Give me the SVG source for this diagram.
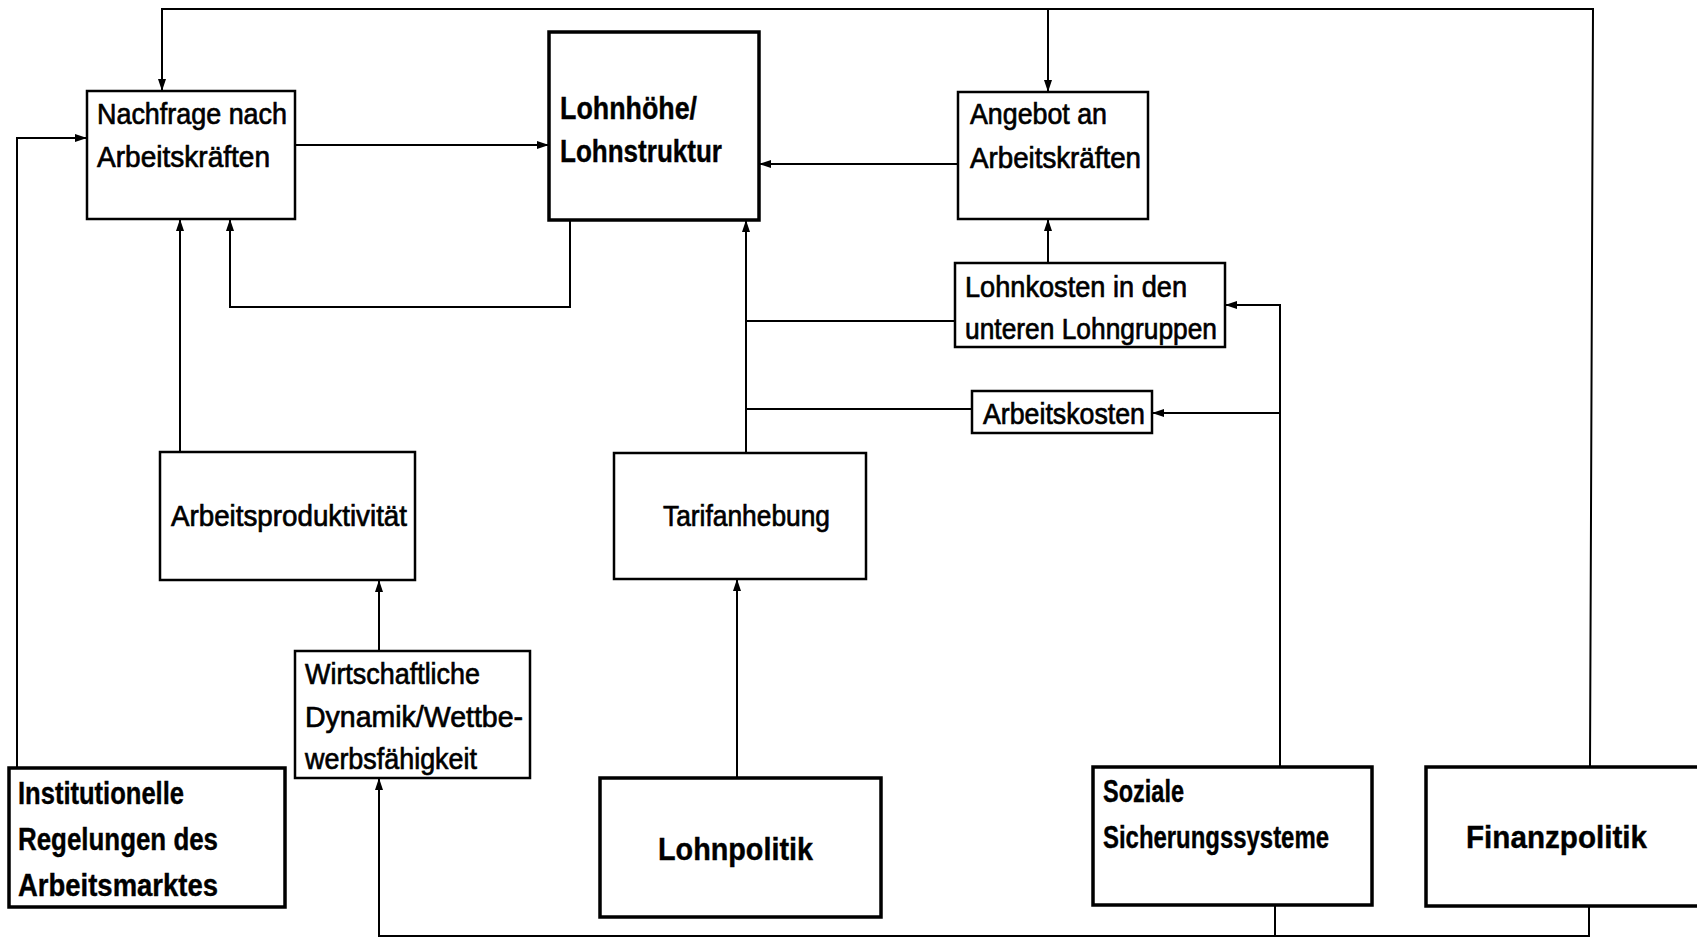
<svg xmlns="http://www.w3.org/2000/svg" width="1697" height="938" viewBox="0 0 1697 938">
<defs>
<marker id="ah" viewBox="0 0 12 8" refX="12" refY="4" markerWidth="12" markerHeight="8" orient="auto" markerUnits="userSpaceOnUse">
<path d="M0,0 L12,4 L0,8 z" fill="#000"/>
</marker>
<style>
.box{fill:#fff;stroke:#000;stroke-width:2.5}
.thick{fill:#fff;stroke:#000;stroke-width:3.5}
.t{font-family:"Liberation Sans",Arial,sans-serif;font-size:30px;fill:#000;stroke:#000;stroke-width:0.7}
.b{font-family:"Liberation Sans",Arial,sans-serif;font-size:31px;font-weight:bold;fill:#000;stroke:#000;stroke-width:0.4}
.c{fill:none;stroke:#000;stroke-width:2}
.ca{fill:none;stroke:#000;stroke-width:2;marker-end:url(#ah)}
</style>
</defs>
<rect width="1697" height="938" fill="#fff"/>
<g id="connectors">
<path class="ca" d="M1590,767 L1593,9 L162,9 L162,91"/>
<path class="ca" d="M1048,9 L1048,92"/>
<path class="ca" d="M1589,906 L1589,936 L379,936 L379,778"/>
<path class="c" d="M1275,906 L1275,936"/>
<path class="ca" d="M295,145 L549,145"/>
<path class="ca" d="M958,164 L759,164"/>
<path class="ca" d="M570,220 L570,307 L230,307 L230,219"/>
<path class="ca" d="M180,452 L180,219"/>
<path class="ca" d="M17,768 L17,138 L87,138"/>
<path class="ca" d="M1048,263 L1048,219"/>
<path class="c" d="M955,321 L746,321"/>
<path class="c" d="M972,409 L746,409"/>
<path class="ca" d="M746,453 L746,220"/>
<path class="ca" d="M1280,767 L1280,305 L1225,305"/>
<path class="ca" d="M1280,413 L1152,413"/>
<path class="ca" d="M379,651 L379,580"/>
<path class="ca" d="M737,778 L737,579"/>
</g>
<g id="nachfrage">
<rect class="box" x="87" y="91" width="208" height="128"/>
<text class="t" x="97" y="124" textLength="190" lengthAdjust="spacingAndGlyphs">Nachfrage nach</text>
<text class="t" x="97" y="167" textLength="173" lengthAdjust="spacingAndGlyphs">Arbeitskräften</text>
</g>
<g id="lohnhoehe">
<rect class="thick" x="549" y="32" width="210" height="188"/>
<text class="b" x="560" y="119" font-size="36" textLength="137" lengthAdjust="spacingAndGlyphs">Lohnhöhe/</text>
<text class="b" x="560" y="162" font-size="36" textLength="162" lengthAdjust="spacingAndGlyphs">Lohnstruktur</text>
</g>
<g id="angebot">
<rect class="box" x="958" y="92" width="190" height="127"/>
<text class="t" x="970" y="124" textLength="137" lengthAdjust="spacingAndGlyphs">Angebot an</text>
<text class="t" x="970" y="168" textLength="171" lengthAdjust="spacingAndGlyphs">Arbeitskräften</text>
</g>
<g id="lohnkosten">
<rect class="box" x="955" y="263" width="270" height="84"/>
<text class="t" x="965" y="297" textLength="222" lengthAdjust="spacingAndGlyphs">Lohnkosten in den</text>
<text class="t" x="965" y="339" textLength="252" lengthAdjust="spacingAndGlyphs">unteren Lohngruppen</text>
</g>
<g id="arbeitskosten">
<rect class="box" x="972" y="391" width="180" height="42"/>
<text class="t" x="983" y="424" textLength="162" lengthAdjust="spacingAndGlyphs">Arbeitskosten</text>
</g>
<g id="arbeitsproduktivitaet">
<rect class="box" x="160" y="452" width="255" height="128"/>
<text class="t" x="171" y="526" textLength="236" lengthAdjust="spacingAndGlyphs">Arbeitsproduktivität</text>
</g>
<g id="tarifanhebung">
<rect class="box" x="614" y="453" width="252" height="126"/>
<text class="t" x="663" y="526" textLength="167" lengthAdjust="spacingAndGlyphs">Tarifanhebung</text>
</g>
<g id="wirtschaftliche">
<rect class="box" x="295" y="651" width="235" height="127"/>
<text class="t" x="305" y="684" textLength="175" lengthAdjust="spacingAndGlyphs">Wirtschaftliche</text>
<text class="t" x="305" y="727" textLength="218" lengthAdjust="spacingAndGlyphs">Dynamik/Wettbe-</text>
<text class="t" x="305" y="769" textLength="172" lengthAdjust="spacingAndGlyphs">werbsfähigkeit</text>
</g>
<g id="institutionelle">
<rect class="thick" x="9" y="768" width="276" height="139"/>
<text class="b" x="18" y="804" textLength="166" lengthAdjust="spacingAndGlyphs">Institutionelle</text>
<text class="b" x="18" y="850" textLength="200" lengthAdjust="spacingAndGlyphs">Regelungen des</text>
<text class="b" x="18" y="896" textLength="200" lengthAdjust="spacingAndGlyphs">Arbeitsmarktes</text>
</g>
<g id="lohnpolitik">
<rect class="thick" x="600" y="778" width="281" height="139"/>
<text class="b" x="658" y="860" font-size="33" textLength="155" lengthAdjust="spacingAndGlyphs">Lohnpolitik</text>
</g>
<g id="soziale">
<rect class="thick" x="1093" y="767" width="279" height="138"/>
<text class="b" x="1103" y="802" textLength="81" lengthAdjust="spacingAndGlyphs">Soziale</text>
<text class="b" x="1103" y="848" textLength="226" lengthAdjust="spacingAndGlyphs">Sicherungssysteme</text>
</g>
<g id="finanzpolitik">
<rect class="thick" x="1426" y="767" width="300" height="139"/>
<text class="b" x="1466" y="848" font-size="33" textLength="181" lengthAdjust="spacingAndGlyphs">Finanzpolitik</text>
</g>
</svg>
